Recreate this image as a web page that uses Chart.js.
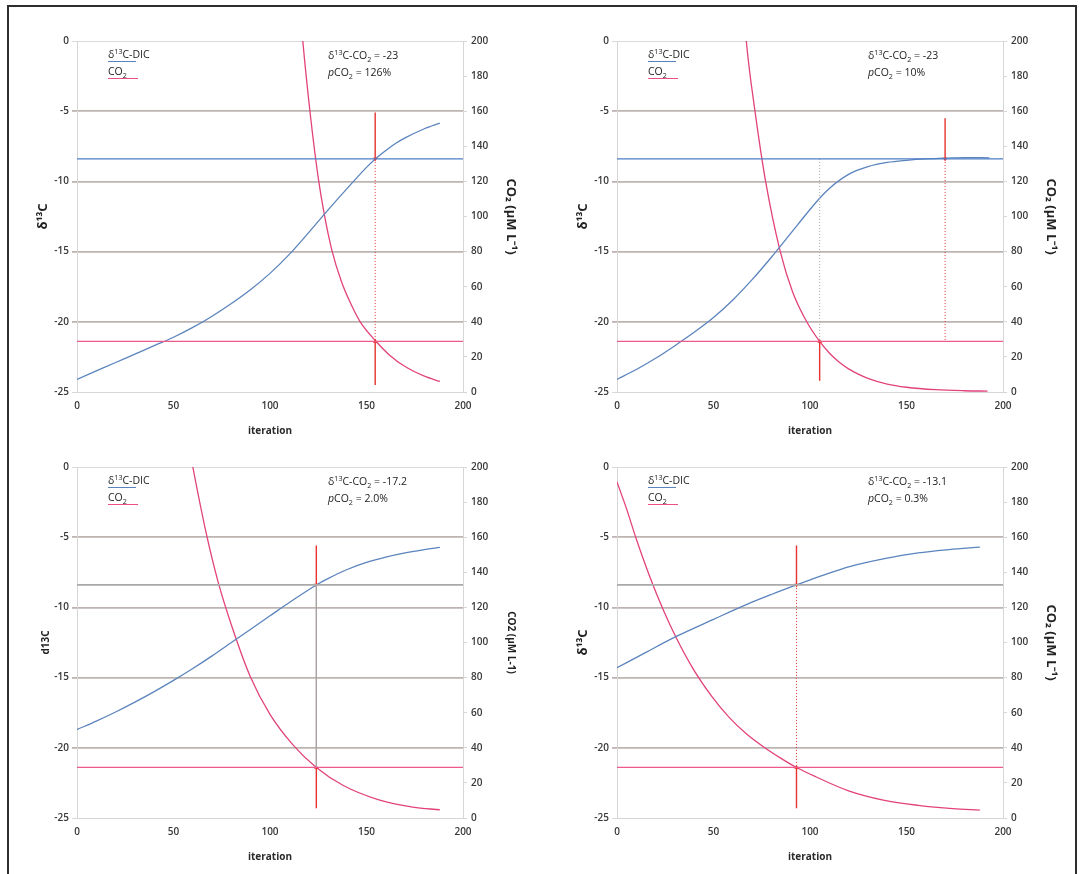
<!DOCTYPE html>
<html>
<head>
<meta charset="utf-8">
<title>δ13C-DIC and CO2 vs iteration</title>
<script src="https://cdn.jsdelivr.net/npm/chart.js@4/dist/chart.umd.min.js"></script>
<style>
  html, body { margin: 0; padding: 0; background: #fff; }
  body { width: 1081px; height: 874px; position: relative; overflow: hidden; font-family: 'Open Sans', sans-serif; }
  .frame { position: absolute; left: 7px; top: 5px; width: 1066px; height: 900px; border: 2px solid #2e2e2e; }
  .panel { position: absolute; width: 525px; height: 437px; }
  .panel canvas { position: absolute; left: 0; top: 0; }
  .key, .note { position: absolute; font-size: 10.5px; line-height: 17px; color: #222; white-space: nowrap; }
  .key { left: 98px; top: 38px; }
  .note { left: 318px; top: 39px; }
  .key div { position: relative; }
  .key div::after { content: ''; position: absolute; left: 0; bottom: 1px; width: 28px; border-top: 1px solid; }
  .key .dic::after { border-color: #5b84bd; }
  .key .co2::after { border-color: #ec4f86; width: 30px; }
  sup, sub { font-size: 68%; line-height: 0; }
</style>
</head>
<body>
<div class="frame"></div>

<div class="panel" style="left:10px; top:8px">
  <canvas id="chartA" width="525" height="437"></canvas>
  <div class="key"><div class="dic">δ<sup>13</sup>C-DIC</div><div class="co2">CO<sub>2</sub></div></div>
  <div class="note">δ<sup>13</sup>C-CO<sub>2</sub> = -23<br><i>p</i>CO<sub>2</sub> = 126%</div>
</div>
<div class="panel" style="left:550px; top:8px">
  <canvas id="chartB" width="525" height="437"></canvas>
  <div class="key"><div class="dic">δ<sup>13</sup>C-DIC</div><div class="co2">CO<sub>2</sub></div></div>
  <div class="note">δ<sup>13</sup>C-CO<sub>2</sub> = -23<br><i>p</i>CO<sub>2</sub> = 10%</div>
</div>
<div class="panel" style="left:10px; top:434px">
  <canvas id="chartC" width="525" height="437"></canvas>
  <div class="key"><div class="dic">δ<sup>13</sup>C-DIC</div><div class="co2">CO<sub>2</sub></div></div>
  <div class="note">δ<sup>13</sup>C-CO<sub>2</sub> = -17.2<br><i>p</i>CO<sub>2</sub> = 2.0%</div>
</div>
<div class="panel" style="left:550px; top:434px">
  <canvas id="chartD" width="525" height="437"></canvas>
  <div class="key"><div class="dic">δ<sup>13</sup>C-DIC</div><div class="co2">CO<sub>2</sub></div></div>
  <div class="note">δ<sup>13</sup>C-CO<sub>2</sub> = -13.1<br><i>p</i>CO<sub>2</sub> = 0.3%</div>
</div>

<script>
// Axis ticks shared by the four runs
const iterTicks  = [0, 50, 100, 150, 200];
const deltaTicks = [-25, -20, -15, -10, -5, 0];
const co2Ticks   = [0, 20, 40, 60, 80, 100, 120, 140, 160, 180, 200];

// Guide levels, read on the δ13C axis
const guideDic = -8.4;
const guideCo2 = -21.4;

// Run A : δ13C-CO2 = -23, pCO2 = 126%
const aDicIter = [0, 10, 20, 30, 40, 50, 60, 70, 80, 90, 100, 110, 120, 130, 140, 150, 155, 160, 165, 170, 180, 188];
const aDic     = [-24.1, -23.5, -22.9, -22.3, -21.7, -21.1, -20.4, -19.6, -18.7, -17.7, -16.55, -15.2, -13.65, -12.05, -10.5, -9.0, -8.35, -7.8, -7.3, -6.9, -6.25, -5.85];
const aCo2Iter = [115, 117, 121, 125, 128, 132, 137, 142, 147, 155, 162, 170, 180, 188];
const aCo2     = [228, 200, 157, 122, 102, 81, 63, 50, 39.5, 28.8, 21, 14.5, 9, 6];
const aUpIter = [154.5], aUpTop = [-5.1];
const aDownIter = [154.5], aDownBottom = [-24.5];
const aLinkIter = [154.5];

// Run B : δ13C-CO2 = -23, pCO2 = 10%
const bDicIter = [0, 10, 20, 30, 40, 50, 60, 70, 80, 90, 100, 105, 110, 120, 130, 140, 150, 160, 170, 180, 193];
const bDic     = [-24.1, -23.4, -22.6, -21.7, -20.75, -19.7, -18.45, -17.0, -15.4, -13.7, -12.0, -11.2, -10.5, -9.5, -8.95, -8.65, -8.5, -8.4, -8.35, -8.3, -8.32];
const bCo2Iter = [65, 67, 71.5, 77, 84.6, 91, 98.3, 105, 110, 115, 120, 125, 130, 140, 150, 165, 180, 192];
const bCo2     = [230, 200, 160, 120, 80, 57, 40, 28.8, 22.2, 17.1, 13.2, 10.2, 7.8, 4.5, 2.7, 1.3, 0.7, 0.5];
const bUpIter = [170], bUpTop = [-5.5];
const bDownIter = [105], bDownBottom = [-24.2];
const bLinkIter = [105, 170];

// Run C : δ13C-CO2 = -17.2, pCO2 = 2.0%
const cDicIter = [0, 10, 20, 30, 40, 50, 60, 70, 80, 90, 100, 110, 124, 130, 140, 150, 160, 170, 180, 188];
const cDic     = [-18.7, -18.1, -17.45, -16.75, -16.0, -15.2, -14.35, -13.45, -12.5, -11.55, -10.6, -9.65, -8.4, -7.95, -7.3, -6.8, -6.42, -6.12, -5.88, -5.72];
const cCo2Iter = [58, 60, 67, 73, 80, 90, 100, 112, 124, 138, 156, 174, 188];
const cCo2     = [212, 200, 162, 135, 110, 80, 59, 41.5, 28.8, 18.5, 10.5, 6.2, 4.7];
const cUpIter = [124], cUpTop = [-5.6];
const cDownIter = [124], cDownBottom = [-24.3];
const cLinkIter = [124];

// Run D : δ13C-CO2 = -13.1, pCO2 = 0.3%
const dDicIter = [0, 15, 31, 50, 67, 80, 93, 107, 121, 138, 156, 172, 188];
const dDic     = [-14.3, -13.2, -12.05, -10.85, -9.8, -9.08, -8.4, -7.7, -7.08, -6.55, -6.12, -5.88, -5.7];
const dCo2Iter = [0, 5, 10, 17, 24, 31, 40, 49, 58, 67, 76, 85, 93, 103, 120, 138, 156, 174, 188];
const dCo2     = [191.5, 176, 159, 137.5, 118.5, 102, 84, 69.5, 57.5, 48, 40.5, 34, 28.8, 23.5, 15.5, 10.2, 7.2, 5.3, 4.5];
const dUpIter = [93], dUpTop = [-5.6];
const dDownIter = [93], dDownBottom = [-24.3];
const dLinkIter = [93];

const dicColor = '#5b84bd';
const co2Color = '#e2427c';
const markRed  = '#e8322f';
const tickFont = { family: "'Open Sans', sans-serif", size: 10, weight: '600' };

Chart.defaults.font.family = "'Open Sans', sans-serif";

const pts = (xs, ys) => xs.map((x, i) => ({ x, y: ys[i] }));

function makePanel(id, p) {
  const span = [iterTicks[0], iterTicks[iterTicks.length - 1]];
  const ds = [];

  // horizontal guides
  ds.push({ data: span.map(x => ({ x, y: guideDic })), borderColor: p.dicGuide, borderWidth: p.dicGuideWidth });
  ds.push({ data: span.map(x => ({ x, y: guideCo2 })), borderColor: '#ef5a8c', borderWidth: 1.2 });

  // dotted links between the two guides
  p.linkIter.forEach((it, i) => ds.push({
    data: [{ x: it, y: guideDic }, { x: it, y: guideCo2 }],
    borderColor: p.linkColor[i], borderWidth: 1, borderDash: p.linkDash[i]
  }));

  // red markers above the DIC guide and below the CO2 guide
  p.upIter.forEach((it, i) => ds.push({
    data: [{ x: it, y: p.upTop[i] }, { x: it, y: guideDic }],
    borderColor: markRed, borderWidth: 1.4,
    pointRadius: [0, 2.6], pointStyle: 'triangle', pointRotation: 180,
    pointBackgroundColor: markRed, pointBorderWidth: 0
  }));
  p.downIter.forEach((it, i) => ds.push({
    data: [{ x: it, y: guideCo2 }, { x: it, y: p.downBottom[i] }],
    borderColor: markRed, borderWidth: 1.4,
    pointRadius: [2.6, 0], pointStyle: 'triangle',
    pointBackgroundColor: markRed, pointBorderWidth: 0
  }));

  // model curves
  ds.push({ data: pts(p.dicIter, p.dic), borderColor: dicColor, borderWidth: 1.3, cubicInterpolationMode: 'monotone' });
  ds.push({ data: pts(p.co2Iter, p.co2), yAxisID: 'y2', borderColor: co2Color, borderWidth: 1.3, cubicInterpolationMode: 'monotone' });

  new Chart(document.getElementById(id).getContext('2d'), {
    type: 'line',
    data: { datasets: ds },
    options: {
      responsive: false,
      animation: false,
      devicePixelRatio: 1,
      layout: { padding: { top: 33, left: 0, right: 0, bottom: 0 } },
      elements: { point: { radius: 0, hoverRadius: 0 }, line: { fill: false } },
      plugins: { legend: { display: false }, tooltip: { enabled: false } },
      scales: {
        x: {
          type: 'linear', min: 0, max: 200,
          afterBuildTicks: s => { s.ticks = iterTicks.map(v => ({ value: v })); },
          afterFit: s => { s.height = 53; },
          grid: { display: false, drawTicks: false },
          border: { display: true, color: '#d6d6d6' },
          ticks: { padding: 8, font: tickFont, color: '#383838', maxRotation: 0 },
          title: { display: true, text: 'iteration', color: '#2a2a2a',
                   font: { size: 10, weight: 'bold' }, padding: { top: 0, bottom: 8 } }
        },
        y: {
          position: 'left', min: -25, max: 0,
          afterBuildTicks: s => { s.ticks = deltaTicks.map(v => ({ value: v })); },
          afterFit: s => { s.width = 67; },
          grid: {
            color: c => (c.tick && (c.tick.value === 0 || c.tick.value === -25)) ? '#dadada' : '#bdb4b2',
            lineWidth: c => (c.tick && (c.tick.value === 0 || c.tick.value === -25)) ? 1 : 1.8,
            tickLength: 5
          },
          border: { color: '#d6d6d6' },
          ticks: { padding: 3, font: tickFont, color: '#383838' },
          title: { display: true, text: p.leftTitle, color: '#222',
                   font: { size: p.titleSize, weight: 'bold' }, padding: { top: p.leftPad } }
        },
        y2: {
          position: 'right', min: 0, max: 200,
          afterBuildTicks: s => { s.ticks = co2Ticks.map(v => ({ value: v })); },
          afterFit: s => { s.width = 72; },
          grid: { drawOnChartArea: false, tickLength: 4, color: '#d6d6d6' },
          border: { color: '#d6d6d6' },
          ticks: { padding: 4, font: tickFont, color: '#383838' },
          title: { display: true, text: p.rightTitle, color: '#222',
                   font: { size: p.titleSize, weight: 'bold' }, padding: { top: p.rightPad } }
        }
      }
    }
  });
}

const bigTitles = { leftTitle: 'δ¹³C', rightTitle: 'CO₂ (µM L⁻¹)', titleSize: 13, leftPad: 25, rightPad: 16 };

makePanel('chartA', Object.assign({
  dicIter: aDicIter, dic: aDic, co2Iter: aCo2Iter, co2: aCo2,
  upIter: aUpIter, upTop: aUpTop, downIter: aDownIter, downBottom: aDownBottom,
  linkIter: aLinkIter, linkColor: [markRed], linkDash: [[1, 2]],
  dicGuide: '#4c7fc6', dicGuideWidth: 1.2
}, bigTitles));

makePanel('chartB', Object.assign({
  dicIter: bDicIter, dic: bDic, co2Iter: bCo2Iter, co2: bCo2,
  upIter: bUpIter, upTop: bUpTop, downIter: bDownIter, downBottom: bDownBottom,
  linkIter: bLinkIter, linkColor: ['#a9a3a3', markRed], linkDash: [[1, 2], [1, 2]],
  dicGuide: '#4c7fc6', dicGuideWidth: 1.2
}, bigTitles));

makePanel('chartC', {
  dicIter: cDicIter, dic: cDic, co2Iter: cCo2Iter, co2: cCo2,
  upIter: cUpIter, upTop: cUpTop, downIter: cDownIter, downBottom: cDownBottom,
  linkIter: cLinkIter, linkColor: ['#aaa4a4'], linkDash: [[]],
  dicGuide: '#a9a9a9', dicGuideWidth: 1.8,
  leftTitle: 'd13C', rightTitle: 'CO2 (µM L-1)', titleSize: 10, leftPad: 30, rightPad: 18
});

makePanel('chartD', Object.assign({
  dicIter: dDicIter, dic: dDic, co2Iter: dCo2Iter, co2: dCo2,
  upIter: dUpIter, upTop: dUpTop, downIter: dDownIter, downBottom: dDownBottom,
  linkIter: dLinkIter, linkColor: [markRed], linkDash: [[1, 2]],
  dicGuide: '#a9a9a9', dicGuideWidth: 1.8
}, bigTitles));
</script>
</body>
</html>
